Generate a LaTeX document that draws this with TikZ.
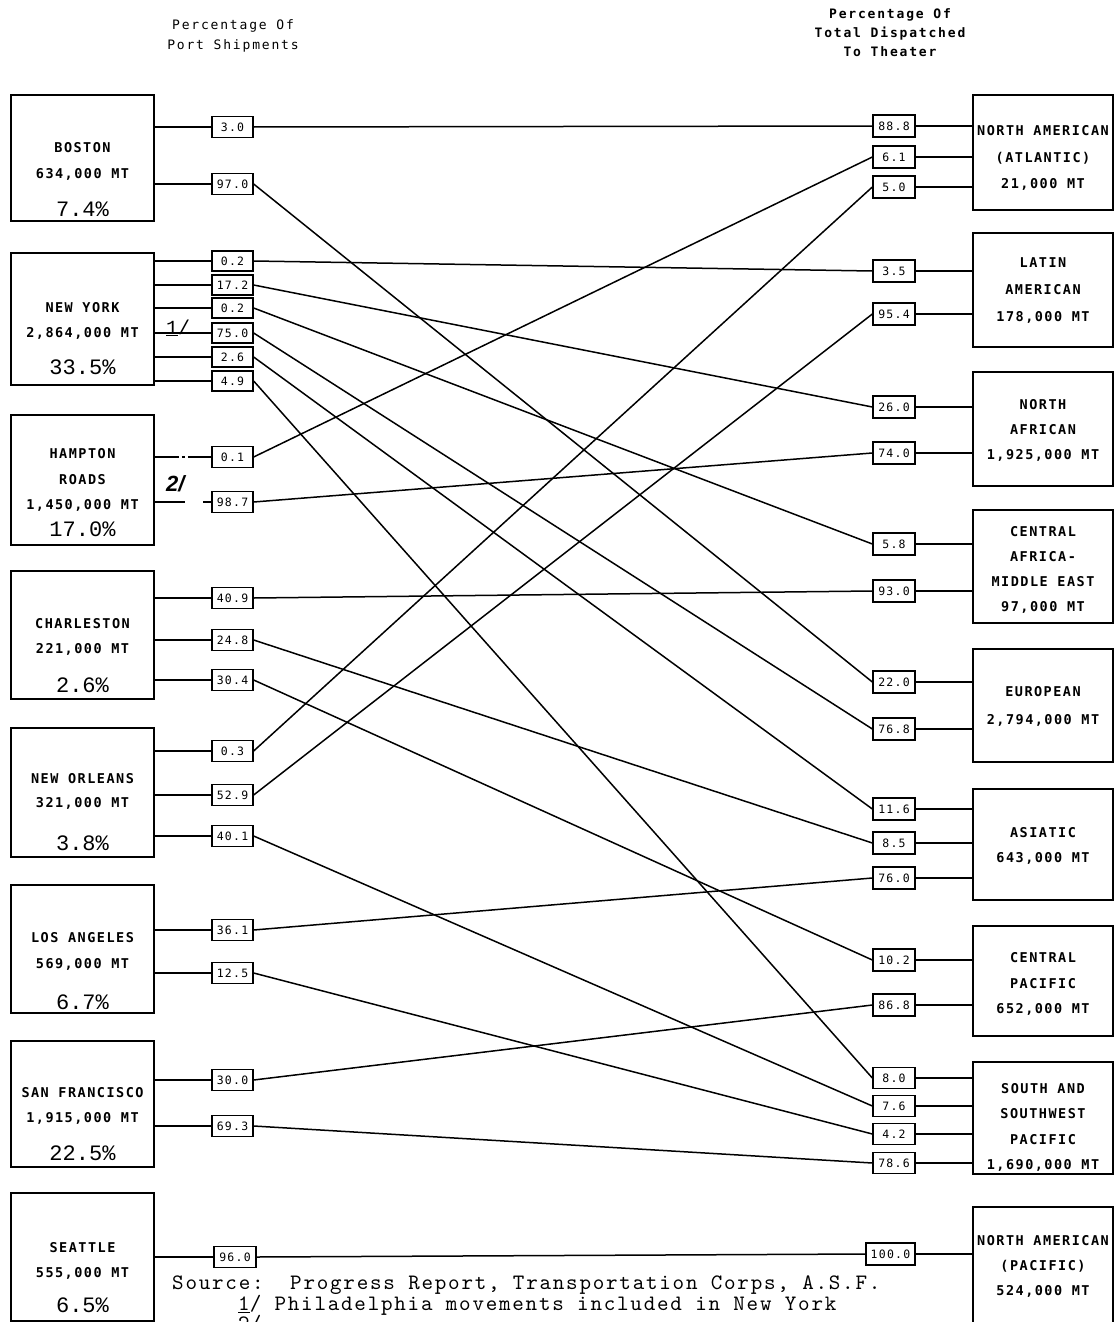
\documentclass[tikz,border=0pt]{standalone}
\usepackage{fontspec}
\newfontfamily\lettering[LetterSpace=11]{DejaVu Sans Mono}
\newfontfamily\headfont[LetterSpace=14]{DejaVu Sans Mono}
\newfontfamily\typewriter{Liberation Mono}
\newfontfamily\handfont{Liberation Sans}
\newfontfamily\typedfont{lmmono10-regular.otf}[LetterSpace=8]
\begin{document}
\begin{tikzpicture}[x=1pt,y=-1pt,
  port/.style={draw,line width=1.8pt,minimum width=143pt,inner sep=0pt},
  area/.style={draw,line width=1.8pt,minimum width=140pt,inner sep=0pt},
  share/.style={draw,line width=1.3pt,minimum width=41pt,minimum height=21pt,inner sep=0pt,
    font=\lettering\fontsize{11.5}{11.5}\selectfont},
  tshare/.style={share,minimum width=42pt,minimum height=22pt},
  flow/.style={line width=1.5pt},
  caption/.style={anchor=base,inner sep=0pt,font=\lettering\bfseries\fontsize{13.5}{14}\selectfont},
  portpct/.style={anchor=base,inner sep=0pt,font=\typewriter\fontsize{22}{22}\selectfont},
  heading/.style={anchor=base,inner sep=0pt,font=\headfont\fontsize{13}{14}\selectfont},
  boldheading/.style={heading,font=\headfont\bfseries\fontsize{13}{14}\selectfont},
  note/.style={anchor=base west,inner sep=0pt,font=\typedfont\fontsize{22}{22}\selectfont},
]
\useasboundingbox (0,0) rectangle (1115,1322);
\fill[white] (0,0) rectangle (1115,1322);
\clip (0,0) rectangle (1115,1322);

% ---------- column headings ----------
\node[heading] (hl1) at (233,29.5) {Percentage Of};
\node[heading] (hl2) at (233,49.5) {Port Shipments};
\node[boldheading] (hr1) at (890,18.5) {Percentage Of};
\node[boldheading] (hr2) at (890,37.5) {Total Dispatched};
\node[boldheading] (hr3) at (890,57) {To Theater};

% ---------- ports of embarkation ----------
\node[port,minimum height=126pt] (bos) at (82.5,158) {};
\node[caption] (bos-a) at (82.5,152) {BOSTON};
\node[caption] (bos-b) at (82.5,178) {634,000 MT};
\node[portpct] (bos-c) at (82.5,216) {7.4\%};

\node[port,minimum height=132pt] (ny) at (82.5,319) {};
\node[caption] (ny-a) at (82.5,312) {NEW YORK};
\node[caption] (ny-b) at (82.5,337) {2,864,000 MT};
\node[portpct] (ny-c) at (82.5,374) {33.5\%};

\node[port,minimum height=130pt] (hr) at (82.5,480) {};
\node[caption] (hr-a) at (82.5,458) {HAMPTON};
\node[caption] (hr-b) at (82.5,484) {ROADS};
\node[caption] (hr-c) at (82.5,509) {1,450,000 MT};
\node[portpct] (hr-d) at (82.5,536) {17.0\%};

\node[port,minimum height=128pt] (chs) at (82.5,635) {};
\node[caption] (chs-a) at (82.5,628) {CHARLESTON};
\node[caption] (chs-b) at (82.5,653) {221,000 MT};
\node[portpct] (chs-c) at (82.5,692) {2.6\%};

\node[port,minimum height=129pt] (no) at (82.5,792.5) {};
\node[caption] (no-a) at (82.5,783) {NEW ORLEANS};
\node[caption] (no-b) at (82.5,807) {321,000 MT};
\node[portpct] (no-c) at (82.5,850) {3.8\%};

\node[port,minimum height=128pt] (la) at (82.5,949) {};
\node[caption] (la-a) at (82.5,942) {LOS ANGELES};
\node[caption] (la-b) at (82.5,968) {569,000 MT};
\node[portpct] (la-c) at (82.5,1009) {6.7\%};

\node[port,minimum height=126pt] (sf) at (82.5,1104) {};
\node[caption] (sf-a) at (82.5,1097) {SAN FRANCISCO};
\node[caption] (sf-b) at (82.5,1122) {1,915,000 MT};
\node[portpct] (sf-c) at (82.5,1160) {22.5\%};

\node[port,minimum height=128pt] (sea) at (82.5,1257) {};
\node[caption] (sea-a) at (82.5,1252) {SEATTLE};
\node[caption] (sea-b) at (82.5,1277) {555,000 MT};
\node[portpct] (sea-c) at (82.5,1312) {6.5\%};

% ---------- theaters ----------
\node[area,minimum height=115pt] (naa) at (1043,152.5) {};
\node[caption] (naa-a) at (1043,135) {NORTH AMERICAN};
\node[caption] (naa-b) at (1043,162) {(ATLANTIC)};
\node[caption] (naa-c) at (1043,188) {21,000 MT};

\node[area,minimum height=114pt] (lat) at (1043,290) {};
\node[caption] (lat-a) at (1043,267) {LATIN};
\node[caption] (lat-b) at (1043,294) {AMERICAN};
\node[caption] (lat-c) at (1043,321) {178,000 MT};

\node[area,minimum height=114pt] (naf) at (1043,429) {};
\node[caption] (naf-a) at (1043,409) {NORTH};
\node[caption] (naf-b) at (1043,434) {AFRICAN};
\node[caption] (naf-c) at (1043,459) {1,925,000 MT};

\node[area,minimum height=113pt] (came) at (1043,566.5) {};
\node[caption] (came-a) at (1043,536) {CENTRAL};
\node[caption] (came-b) at (1043,561) {AFRICA-};
\node[caption] (came-c) at (1043,586) {MIDDLE EAST};
\node[caption] (came-d) at (1043,611) {97,000 MT};

\node[area,minimum height=113pt] (eur) at (1043,705.5) {};
\node[caption] (eur-a) at (1043,696) {EUROPEAN};
\node[caption] (eur-b) at (1043,724) {2,794,000 MT};

\node[area,minimum height=111pt] (asi) at (1043,844.5) {};
\node[caption] (asi-a) at (1043,837) {ASIATIC};
\node[caption] (asi-b) at (1043,862) {643,000 MT};

\node[area,minimum height=110pt] (cpa) at (1043,981) {};
\node[caption] (cpa-a) at (1043,962) {CENTRAL};
\node[caption] (cpa-b) at (1043,988) {PACIFIC};
\node[caption] (cpa-c) at (1043,1013) {652,000 MT};

\node[area,minimum height=112pt] (ssw) at (1043,1118) {};
\node[caption] (ssw-a) at (1043,1093) {SOUTH AND};
\node[caption] (ssw-b) at (1043,1118) {SOUTHWEST};
\node[caption] (ssw-c) at (1043,1144) {PACIFIC};
\node[caption] (ssw-d) at (1043,1169) {1,690,000 MT};

\node[area,minimum height=133pt] (nap) at (1043,1273.5) {};
\node[caption] (nap-a) at (1043,1245) {NORTH AMERICAN};
\node[caption] (nap-b) at (1043,1270) {(PACIFIC)};
\node[caption] (nap-c) at (1043,1295) {524,000 MT};

% ---------- percentage of port shipments ----------
\node[share] (bos1) at (232.5,127) {3.0};
\node[share] (bos2) at (232.5,184) {97.0};
\node[share,minimum height=20pt] (ny1) at (232.5,261) {0.2};
\node[share,minimum height=20pt] (ny2) at (232.5,285) {17.2};
\node[share,minimum height=20pt] (ny3) at (232.5,308) {0.2};
\node[share,minimum height=20pt] (ny4) at (232.5,333) {75.0};
\node[share,minimum height=20pt] (ny5) at (232.5,357) {2.6};
\node[share,minimum height=20pt] (ny6) at (232.5,381) {4.9};
\node[share] (hr1) at (232.5,457) {0.1};
\node[share] (hr2) at (232.5,502) {98.7};
\node[share] (chs1) at (232.5,598) {40.9};
\node[share] (chs2) at (232.5,640) {24.8};
\node[share] (chs3) at (232.5,680) {30.4};
\node[share] (no1) at (232.5,751) {0.3};
\node[share] (no2) at (232.5,795) {52.9};
\node[share] (no3) at (232.5,836) {40.1};
\node[share] (la1) at (232.5,930) {36.1};
\node[share] (la2) at (232.5,973) {12.5};
\node[share] (sf1) at (232.5,1080) {30.0};
\node[share] (sf2) at (232.5,1126) {69.3};
\node[share,minimum width=42pt] (sea1) at (235,1257) {96.0};

% ---------- percentage of total dispatched to theater ----------
\node[tshare] (naa1) at (894,126) {88.8};
\node[tshare] (naa2) at (894,157) {6.1};
\node[tshare] (naa3) at (894,187) {5.0};
\node[tshare] (lat1) at (894,271) {3.5};
\node[tshare] (lat2) at (894,314) {95.4};
\node[tshare] (naf1) at (894,407) {26.0};
\node[tshare] (naf2) at (894,453) {74.0};
\node[tshare] (came1) at (894,544) {5.8};
\node[tshare] (came2) at (894,591) {93.0};
\node[tshare] (eur1) at (894,682) {22.0};
\node[tshare] (eur2) at (894,729) {76.8};
\node[tshare] (asi1) at (894,809) {11.6};
\node[tshare] (asi2) at (894,843) {8.5};
\node[tshare] (asi3) at (894,878) {76.0};
\node[tshare] (cpa1) at (894,960) {10.2};
\node[tshare] (cpa2) at (894,1005) {86.8};
\node[tshare,minimum height=21pt] (ssw1) at (894,1078) {8.0};
\node[tshare,minimum height=21pt] (ssw2) at (894,1106) {7.6};
\node[tshare,minimum height=21pt] (ssw3) at (894,1134) {4.2};
\node[tshare,minimum height=21pt] (ssw4) at (894,1163) {78.6};
\node[tshare,minimum width=49pt] (nap1) at (890.5,1254) {100.0};

% ---------- stubs from ports to their percentage boxes ----------
\foreach \p/\s in {bos/bos1,bos/bos2,ny/ny1,ny/ny2,ny/ny3,ny/ny4,ny/ny5,ny/ny6,
                   chs/chs1,chs/chs2,chs/chs3,no/no1,no/no2,no/no3,
                   la/la1,la/la2,sf/sf1,sf/sf2,sea/sea1}
  \draw[flow] (\p.east |- \s.west) -- (\s.west);
\draw[flow,dash pattern=on 24pt off 3pt on 3pt off 3pt on 60pt] (hr.east |- hr1.west) -- (hr1.west);
\draw[flow] (hr.east |- hr2.west) -- ([xshift=-26pt]hr2.west);
\draw[flow] ([xshift=-8pt]hr2.west) -- (hr2.west);

% ---------- stubs from percentage boxes to theaters ----------
\foreach \t/\s in {naa/naa1,naa/naa2,naa/naa3,lat/lat1,lat/lat2,naf/naf1,naf/naf2,
                   came/came1,came/came2,eur/eur1,eur/eur2,asi/asi1,asi/asi2,asi/asi3,
                   cpa/cpa1,cpa/cpa2,ssw/ssw1,ssw/ssw2,ssw/ssw3,ssw/ssw4,nap/nap1}
  \draw[flow] (\s.east) -- (\s.east -| \t.west);

% ---------- port-to-theater flows ----------
\foreach \a/\b in {bos1/naa1,bos2/eur1,
                   ny1/lat1,ny2/naf1,ny3/came1,ny4/eur2,ny5/asi1,ny6/ssw1,
                   hr1/naa2,hr2/naf2,
                   chs1/came2,chs2/asi2,chs3/cpa1,
                   no1/naa3,no2/lat2,no3/ssw2,
                   la1/asi3,la2/ssw3,
                   sf1/cpa2,sf2/ssw4,
                   sea1/nap1}
  \draw[flow] (\a.east) -- (\b.west);

% ---------- footnote marks ----------
\node[anchor=base west,inner sep=0pt,font=\typewriter\fontsize{20}{20}\selectfont] (mark1) at (166,334) {\underline{1}/};
\node[anchor=base west,inner sep=0pt,font=\handfont\bfseries\itshape\fontsize{22}{22}\selectfont] (mark2) at (166,491) {2/};

% ---------- source and notes ----------
\node[note] (src) at (172,1289) {Source:\ \ Progress Report, Transportation Corps, A.S.F.};
\node[note] (fn1) at (238,1310.5) {\underline{1}/ Philadelphia movements included in New York};
\node[note] (fn2) at (238,1330) {\underline{2}/};
\end{tikzpicture}
\end{document}
